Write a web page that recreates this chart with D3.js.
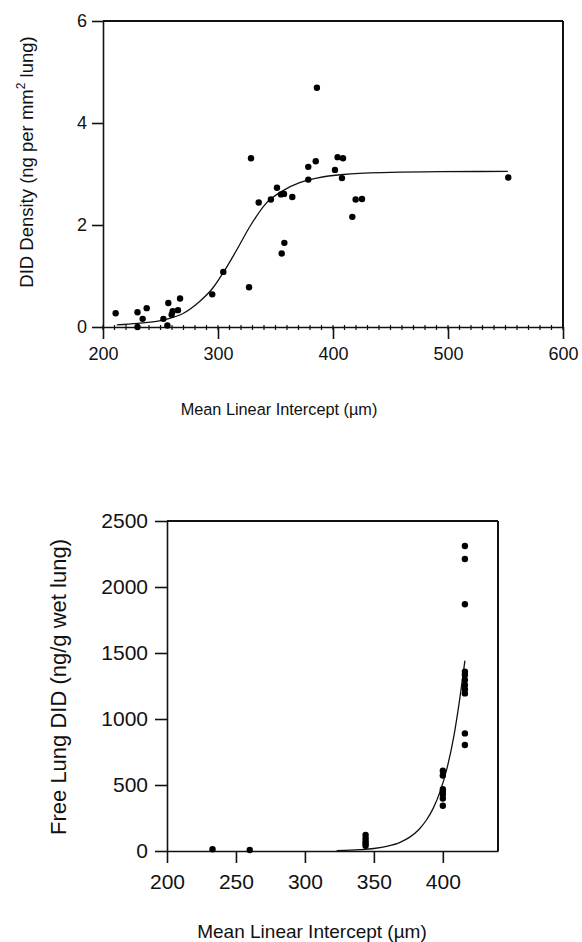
<!DOCTYPE html>
<html>
<head>
<meta charset="utf-8">
<script src="https://cdn.jsdelivr.net/npm/d3@7"></script>
<style>
    body { margin: 0; background: #fff; }
    svg { display: block; }
    text { font-family: "Liberation Sans", Arial, sans-serif; fill: #111; }
    .axis path, .axis line { stroke: #111; stroke-width: 1.6; }
</style>
</head>
<body>
<div id="chart"></div>
<script>
    // ---- top panel: DID density vs MLI ----
    var density_x = [211, 230, 230, 234.5, 238, 252.5, 256.8, 256, 259.7, 260.6, 265.2, 267, 295, 304.6, 327,
                     328.7, 335.4, 346, 351.3, 354.8, 357.4, 364.6, 357.7, 355.4, 378.5, 378.5, 385, 386,
                     404, 408.7, 401.7, 407.8, 419.7, 425.2, 416.8, 552.4];
    var density_y = [0.27, 0.29, 0.0, 0.16, 0.37, 0.16, 0.47, 0.03, 0.24, 0.31, 0.33, 0.56, 0.64, 1.08, 0.78,
                     3.31, 2.44, 2.5, 2.73, 2.6, 2.61, 2.55, 1.65, 1.44, 3.14, 2.89, 3.25, 4.69,
                     3.33, 3.31, 3.08, 2.92, 2.5, 2.51, 2.16, 2.93];
    var density_fit_x = [212, 230, 255, 270, 284, 295, 305, 316, 328, 342, 357, 371, 386, 409, 450, 493, 552];
    var density_fit_y = [0.04, 0.07, 0.15, 0.27, 0.5, 0.75, 1.08, 1.5, 1.98, 2.43, 2.68, 2.83, 2.92, 2.99, 3.03, 3.045, 3.05];
    var top_xticks = [200, 300, 400, 500, 600];
    var top_yticks = [0, 2, 4, 6];

    // ---- bottom panel: free lung DID vs MLI ----
    var free_x = [233, 260,
                  344, 344, 344, 344, 344,
                  400, 400, 400, 400, 400, 400, 400,
                  416, 416, 416, 416, 416, 416, 416, 416, 416, 416, 416];
    var free_y = [13, 8,
                  122, 95, 72, 55, 40,
                  608, 572, 468, 448, 428, 398, 343,
                  2311, 2212, 1869, 1358, 1333, 1295, 1258, 1225, 1194, 891, 803];
    var free_fit_x = [323, 340, 350, 360, 369, 376, 383, 388, 393, 398, 403, 408, 412, 416];
    var free_fit_y = [3, 10, 19, 37, 66, 105, 167, 233, 323, 450, 626, 871, 1134, 1442];
    var bot_xticks = [200, 250, 300, 350, 400];
    var bot_yticks = [0, 500, 1000, 1500, 2000, 2500];

    var svg = d3.select("#chart").append("svg")
        .attr("width", 582)
        .attr("height", 942);

    function draw_panel(opt)
    {
        var x = d3.scaleLinear().domain(opt.xdom).range([opt.left, opt.right]);
        var y = d3.scaleLinear().domain(opt.ydom).range([opt.bottom, opt.top]);
        var g = svg.append("g");

        // box: top and right lines
        g.append("line").attr("x1", opt.left).attr("x2", opt.right)
            .attr("y1", opt.top).attr("y2", opt.top)
            .attr("stroke", "#111").attr("stroke-width", 2);
        g.append("line").attr("x1", opt.right).attr("x2", opt.right)
            .attr("y1", opt.top).attr("y2", opt.bottom)
            .attr("stroke", "#111").attr("stroke-width", 2);

        if(opt.minor)
        {
            var minor = d3.range(opt.xdom[0], opt.xdom[1] + 1, opt.minor);
            g.selectAll(".minor").data(minor).enter().append("line")
                .attr("x1", d => x(d)).attr("x2", d => x(d))
                .attr("y1", opt.bottom - 2).attr("y2", opt.bottom + 3)
                .attr("stroke", "#111").attr("stroke-width", 1.2);
        }

        g.append("g").attr("class", "axis")
            .attr("transform", "translate(0," + opt.bottom + ")")
            .call(d3.axisBottom(x).tickValues(opt.xticks).tickFormat(d3.format("d"))
                    .tickSize(12).tickSizeOuter(0).tickPadding(opt.xpad))
            .selectAll("text").style("font-size", opt.fs + "px");
        g.append("g").attr("class", "axis")
            .attr("transform", "translate(" + opt.left + ",0)")
            .call(d3.axisLeft(y).tickValues(opt.yticks).tickFormat(d3.format("d"))
                    .tickSize(opt.ytick).tickSizeOuter(0).tickPadding(opt.ypad))
            .selectAll("text").style("font-size", opt.fs + "px");

        var fit = opt.fitx.map((d, i) => [d, opt.fity[i]]);
        g.append("path").datum(fit)
            .attr("fill", "none").attr("stroke", "#111").attr("stroke-width", 1.3)
            .attr("d", d3.line().x(d => x(d[0])).y(d => y(d[1])).curve(d3.curveMonotoneX));

        var pts = opt.px.map((d, i) => [d, opt.py[i]]);
        g.selectAll(".dot").data(pts).enter().append("circle")
            .attr("cx", d => x(d[0])).attr("cy", d => y(d[1]))
            .attr("r", 3.2).attr("fill", "#000");

        g.append("text").attr("x", opt.xlab[0]).attr("y", opt.xlab[1])
            .attr("text-anchor", "middle").style("font-size", opt.lfs + "px")
            .text("Mean Linear Intercept (µm)");
        return g;
    }

    var topPanel = draw_panel({
        left: 103, right: 563, top: 21, bottom: 327,
        xdom: [200, 600], ydom: [0, 6], xticks: top_xticks, yticks: top_yticks, minor: 10,
        px: density_x, py: density_y, fitx: density_fit_x, fity: density_fit_y,
        fs: 18, lfs: 16.3, xlab: [279, 415], xpad: 8, ytick: 11, ypad: 5
    });
    var ylab1 = topPanel.append("text")
        .attr("transform", "translate(33,162) rotate(-90)")
        .attr("text-anchor", "middle").style("font-size", "18.5px");
    ylab1.append("tspan").text("DID Density (ng per mm");
    ylab1.append("tspan").attr("dy", -8).style("font-size", "12px").text("2");
    ylab1.append("tspan").attr("dy", 8).text(" lung)");

    var botPanel = draw_panel({
        left: 167, right: 498, top: 521, bottom: 851,
        xdom: [200, 440], ydom: [0, 2500], xticks: bot_xticks, yticks: bot_yticks, minor: 0,
        px: free_x, py: free_y, fitx: free_fit_x, fity: free_fit_y,
        fs: 21, lfs: 19, xlab: [312, 938], xpad: 11, ytick: 12, ypad: 7
    });
    botPanel.append("text")
        .attr("transform", "translate(66,687) rotate(-90)")
        .attr("text-anchor", "middle").style("font-size", "22px")
        .text("Free Lung DID (ng/g wet lung)");
</script>
</body>
</html>
